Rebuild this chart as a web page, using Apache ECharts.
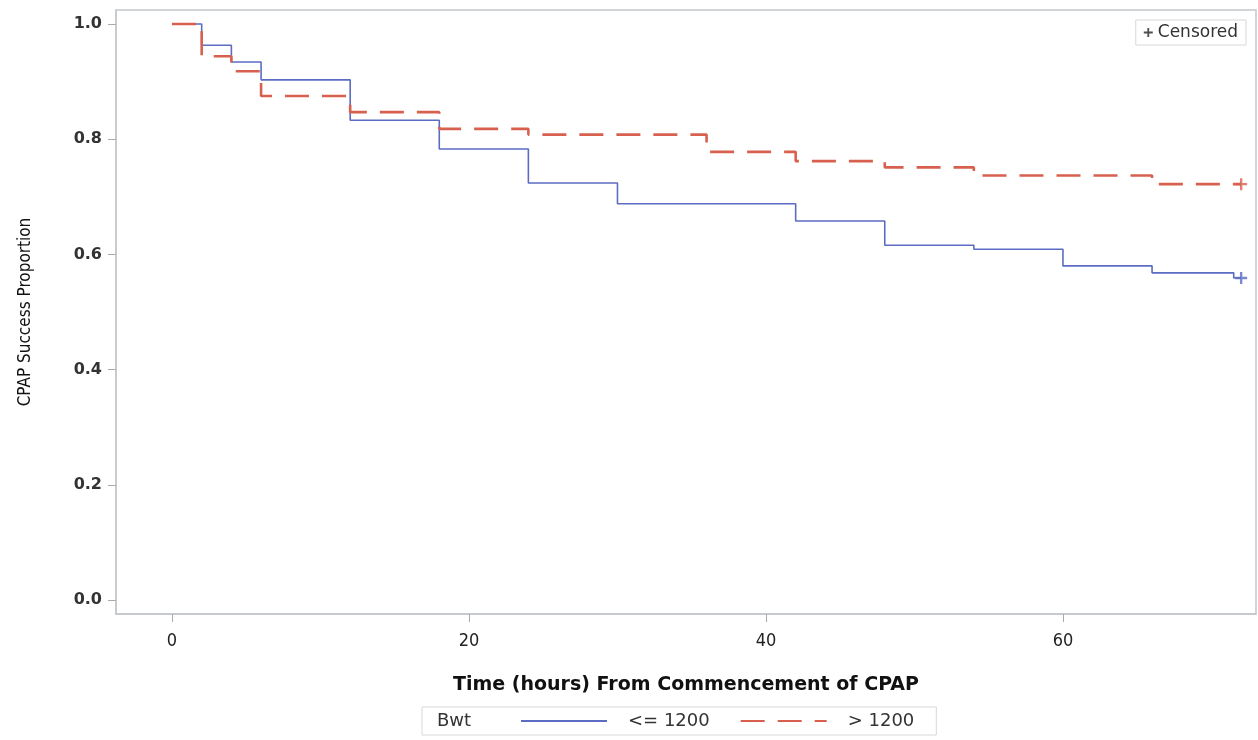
<!DOCTYPE html>
<html>
<head>
<meta charset="utf-8">
<script src="https://cdn.jsdelivr.net/npm/echarts@6/dist/echarts.min.js"></script>
<style>
    html, body { margin: 0; padding: 0; background: #fff; }
    #chart { width: 1258px; height: 740px; }
</style>
</head>
<body>
<div id="chart"></div>
<script>
    // Kaplan-Meier steps: [hours, proportion]
    const lowBwt = [[0, 1], [2, 0.963], [4, 0.934], [6, 0.903], [12, 0.833], [18, 0.783], [24, 0.724],
        [30, 0.688], [42, 0.658], [48, 0.616], [54, 0.609], [60, 0.580], [66, 0.568], [71.5, 0.559], [72, 0.559]]
    const highBwt = [[0, 1], [2, 0.944], [4, 0.918], [6, 0.875], [12, 0.847], [18, 0.818], [24, 0.808],
        [36, 0.778], [42, 0.762], [48, 0.751], [54, 0.737], [66, 0.722], [72, 0.722]]
    const censored = [[72, 0.722, 'high'], [72, 0.559, 'low']]
    const xTicks = [0, 20, 40, 60]
    const yTicks = [0, 0.2, 0.4, 0.6, 0.8, 1.0]

    const blue = '#5b6cc2'
    const red = '#d8604f'
    const frame = '#c4c7cc'
    const plus = 'path://M4,0H6V4H10V6H6V10H4V6H0V4H4Z'
    const narrow = "'Liberation Sans Narrow', 'DejaVu Sans Condensed', 'Liberation Sans', sans-serif"

    const myChart = echarts.init(document.getElementById('chart'))
    const option = {
        animation: false,
        grid: {
            left: 116, right: 2, top: 10, bottom: 126,
            show: true, borderColor: frame, borderWidth: 1.5
        },
        xAxis: {
            type: 'value',
            min: -3.77,
            max: 73,
            splitLine: { show: false },
            axisLine: { show: true, onZero: false, lineStyle: { color: frame, width: 1.5 } },
            axisTick: { show: true, customValues: xTicks, length: 8, lineStyle: { color: '#aaa' } },
            axisLabel: {
                customValues: xTicks, margin: 18,
                color: '#222', fontSize: 18, fontFamily: narrow
            },
            name: 'Time (hours) From Commencement of CPAP',
            nameLocation: 'middle',
            nameGap: 62,
            nameTextStyle: { color: '#111', fontSize: 19, fontWeight: 'bold', fontFamily: 'DejaVu Sans' }
        },
        yAxis: {
            type: 'value',
            min: -0.0243,
            max: 1.0243,
            splitLine: { show: false },
            axisLine: { show: true, onZero: false, lineStyle: { color: frame, width: 1.5 } },
            axisTick: { show: true, customValues: yTicks, length: 8, lineStyle: { color: '#aaa' } },
            axisLabel: {
                customValues: yTicks, margin: 14,
                formatter: v => v.toFixed(1),
                color: '#333', fontSize: 16, fontWeight: 'bold', fontFamily: 'DejaVu Sans'
            },
            name: 'CPAP Success Proportion',
            nameLocation: 'middle',
            nameGap: 82,
            nameTextStyle: { color: '#111', fontSize: 17, fontFamily: narrow }
        },
        legend: [
            {
                data: ['<= 1200', '> 1200'],
                left: 422, top: 707,
                padding: [5, 22, 5, 98],
                borderColor: '#d8d8d8', borderWidth: 1,
                itemWidth: 86, itemHeight: 14, itemGap: 30,
                itemStyle: { opacity: 0 },
                textStyle: { color: '#333', fontSize: 18, fontFamily: 'DejaVu Sans', padding: [0, 0, 0, 16] }
            },
            {
                data: [{ name: 'Censored', icon: plus, itemStyle: { color: '#222' } }],
                right: 12, top: 20,
                padding: [4, 8, 4, 8],
                borderColor: '#d8d8d8', borderWidth: 1,
                itemWidth: 9, itemHeight: 9, itemGap: 6,
                textStyle: { color: '#333', fontSize: 17, fontFamily: 'DejaVu Sans' }
            }
        ],
        graphic: [
            {
                type: 'text', left: 437, top: 712,
                style: { text: 'Bwt', fill: '#333', fontSize: 18, fontFamily: 'DejaVu Sans' }
            }
        ],
        series: [
            {
                name: '<= 1200',
                type: 'line',
                step: 'end',
                symbol: 'none',
                color: blue,
                lineStyle: { color: blue, width: 1.6 },
                data: lowBwt
            },
            {
                name: '> 1200',
                type: 'line',
                step: 'end',
                symbol: 'none',
                color: red,
                lineStyle: { color: red, width: 2.6, type: [24, 13] },
                data: highBwt
            },
            {
                name: 'Censored',
                type: 'scatter',
                symbol: plus,
                symbolSize: 12,
                data: censored.map(c => ({
                    value: [c[0], c[1]],
                    itemStyle: { color: c[2] === 'high' ? red : blue }
                }))
            }
        ]
    }
    myChart.setOption(option)
</script>
</body>
</html>
